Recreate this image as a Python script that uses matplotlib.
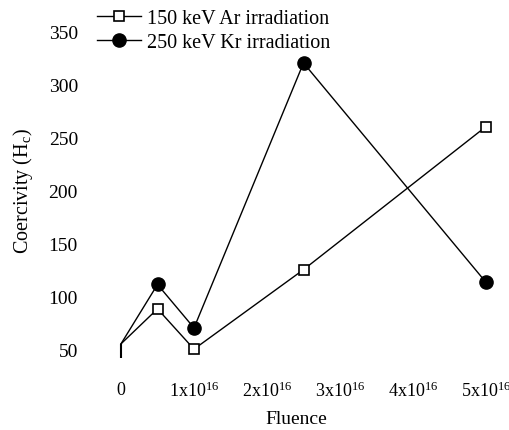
import numpy as np
import matplotlib
matplotlib.use("Agg")
import matplotlib.pyplot as plt

# data (fluence in units of 1e16 ions/cm^2)
fluence = [0, 0.5, 1.0, 2.5, 5.0]
hc_ar = [55, 88, 50, 125, 260]
hc_kr = [55, 111, 70, 320, 113]

xticks = [0, 1, 2, 3, 4, 5]
xtick_labels = ["0"] + [rf"{i}x10$^{{16}}$" for i in range(1, 6)]
yticks = [50, 100, 150, 200, 250, 300, 350]

plt.rcParams["font.family"] = ["Liberation Serif", "DejaVu Serif"]
plt.rcParams["mathtext.fontset"] = "custom"
plt.rcParams["mathtext.rm"] = "Liberation Serif"
plt.rcParams["mathtext.it"] = "Liberation Serif:italic"

fig = plt.figure(figsize=(5.1, 4.31), dpi=100)
ax = fig.add_axes([0.180, 0.163, 0.8016, 0.787])

ax.plot(fluence, hc_ar, color="black", lw=1.0, marker="s", ms=7.5,
        mfc="white", mec="black", mew=1.2, markevery=[1, 2, 3, 4],
        label="150 keV Ar irradiation")
ax.plot(fluence, hc_kr, color="black", lw=1.0, marker="o", ms=9.5,
        mfc="black", mec="black", markevery=[1, 2, 3, 4],
        label="250 keV Kr irradiation")
# the common starting point is drawn as a small tick in the original
ax.plot([fluence[0]], [hc_ar[0] - 7], marker="|", ms=10, mew=1.5, color="black")

ax.set_xlim(-0.4, 5.2)
ax.set_ylim(40, 360)
ax.set_xticks(xticks)
ax.set_xticklabels(xtick_labels)
ax.set_yticks(yticks)
ax.tick_params(axis="y", length=0, labelsize=14, pad=10)
ax.tick_params(axis="x", length=0, labelsize=13, pad=15)
for s in ax.spines.values():
    s.set_visible(False)

ax.set_xlabel("Fluence", fontsize=14, labelpad=7)
ax.set_ylabel("Coercivity (H$_\\mathrm{c}$)", fontsize=14.5, labelpad=10)

ax.legend(loc="upper left", bbox_to_anchor=(0.17, 1.0), bbox_transform=fig.transFigure,
          frameon=False, fontsize=14.5, handlelength=2.2, handletextpad=0.3,
          labelspacing=0.25, borderaxespad=0.1, numpoints=1)

fig.savefig("out.png", dpi=100)
